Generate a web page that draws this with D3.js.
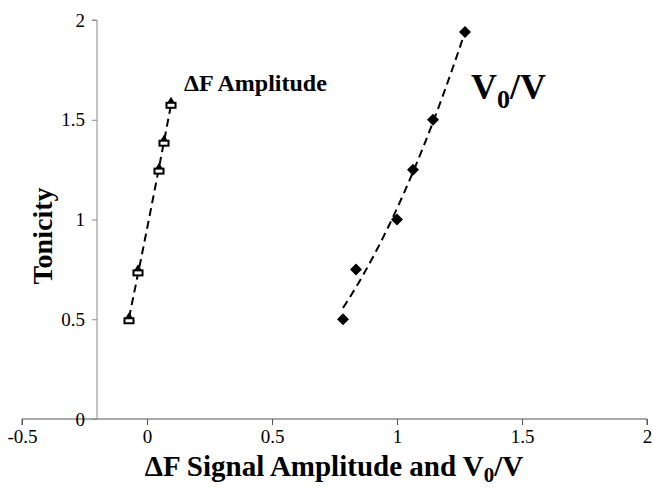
<!DOCTYPE html>
<html><head><meta charset="utf-8">
<script src="https://cdn.jsdelivr.net/npm/d3@7"></script>
<style>body{margin:0;background:#fff}svg{display:block}text{font-family:"Liberation Serif","Times New Roman",serif !important}</style>
</head><body>
<script>
const ampX = [-0.072, -0.036, 0.048, 0.068, 0.096];
const ampY = [0.5, 0.74, 1.25, 1.39, 1.58];
const volX = [0.784, 0.836, 1.0, 1.064, 1.144, 1.272];
const volY = [0.5, 0.75, 1.0, 1.25, 1.5, 1.94];
const xTicks = [-0.5, 0, 0.5, 1, 1.5, 2];
const yTicks = [0, 0.5, 1, 1.5, 2];

const W = 652, H = 491;
const svg = d3.select("body").append("svg").attr("width", W).attr("height", H);
const x = d3.scaleLinear().domain([-0.5, 2]).range([22, 647]);
const y = d3.scaleLinear().domain([0, 2]).range([419, 20]);

// x axis
const xa = svg.append("g").attr("transform", `translate(0,${y(0)})`)
  .call(d3.axisBottom(x).tickValues(xTicks).tickSize(6).tickPadding(5).tickFormat(d => String(d)));
xa.select(".domain").attr("stroke", "#555").attr("d", `M${x(-0.5)},6V0H${x(2)}V6`);
xa.selectAll(".tick line").attr("stroke", "#555");
xa.selectAll("text").attr("font-size", 19).attr("fill", "#000");

// y axis at x = -0.2
const ya = svg.append("g").attr("transform", `translate(${x(-0.2)},0)`)
  .call(d3.axisLeft(y).tickValues(yTicks).tickSize(5).tickPadding(7).tickFormat(d => String(d)));
ya.select(".domain").attr("stroke", "#888").attr("d", `M-5,${y(2)}H0V${y(0)}`);
ya.selectAll(".tick line").attr("stroke", "#888");
ya.selectAll("text").attr("font-size", 19).attr("fill", "#000");

function quadFit(xs, ys) {
  const n = xs.length;
  let S = [0,0,0,0,0], T = [0,0,0];
  for (let i = 0; i < n; i++) {
    let p = 1;
    for (let k = 0; k < 5; k++) { S[k] += p; if (k < 3) T[k] += p * ys[i]; p *= xs[i]; }
  }
  const A = [[S[0],S[1],S[2],T[0]],[S[1],S[2],S[3],T[1]],[S[2],S[3],S[4],T[2]]];
  for (let i = 0; i < 3; i++) {
    for (let j = i+1; j < 3; j++) {
      const f = A[j][i] / A[i][i];
      for (let k = i; k < 4; k++) A[j][k] -= f * A[i][k];
    }
  }
  const c = [0,0,0];
  for (let i = 2; i >= 0; i--) {
    let s = A[i][3];
    for (let k = i+1; k < 3; k++) s -= A[i][k] * c[k];
    c[i] = s / A[i][i];
  }
  return v => c[0] + c[1]*v + c[2]*v*v;
}

function trend(xs, ys) {
  const f = quadFit(xs, ys);
  const [a, b] = d3.extent(xs);
  const pts = d3.range(0, 41).map(i => { const v = a + (b - a) * i / 40; return [v, f(v)]; });
  svg.append("path").datum(pts)
    .attr("d", d3.line().x(d => x(d[0])).y(d => y(d[1])))
    .attr("fill", "none").attr("stroke", "#000").attr("stroke-width", 2)
    .attr("stroke-dasharray", "8,5");
}
trend(ampX, ampY);
trend(volX, volY);

// markers
const am = svg.append("g").selectAll("g").data(ampX.map((v, i) => [v, ampY[i]])).join("g")
  .attr("transform", d => `translate(${x(d[0])},${y(d[1])})`);
am.append("path").attr("d", "M0,-7L5.5,2L-5.5,2Z").attr("fill", "#000");
am.append("rect").attr("x", -4.5).attr("y", -1).attr("width", 9).attr("height", 5)
  .attr("fill", "#fff").attr("stroke", "#000").attr("stroke-width", 2);
svg.append("g").selectAll("path").data(volX.map((v, i) => [v, volY[i]])).join("path")
  .attr("transform", d => `translate(${x(d[0])},${y(d[1])})`)
  .attr("d", "M0,-6L6,0L0,6L-6,0Z")
  .attr("fill", "#000");

// series labels
svg.append("text").attr("x", 184).attr("y", 91)
  .attr("font-weight", "bold").attr("font-size", 24).text("ΔF Amplitude");
const vt = svg.append("text").attr("x", 471).attr("y", 99)
  .attr("font-weight", "bold").attr("font-size", 36);
vt.append("tspan").text("V");
vt.append("tspan").attr("dy", 9).attr("font-size", 26).text("0");
vt.append("tspan").attr("dy", -9).text("/V");

// axis titles
const xt = svg.append("text").attr("x", 334).attr("y", 476).attr("text-anchor", "middle")
  .attr("font-weight", "bold").attr("font-size", 29);
xt.append("tspan").text("ΔF Signal Amplitude and V");
xt.append("tspan").attr("dy", 6).attr("font-size", 21).text("0");
xt.append("tspan").attr("dy", -6).text("/V");

svg.append("text").attr("transform", `translate(52,236) rotate(-90)`).attr("text-anchor", "middle")
  .attr("font-weight", "bold").attr("font-size", 28).text("Tonicity");
</script>
</body></html>
